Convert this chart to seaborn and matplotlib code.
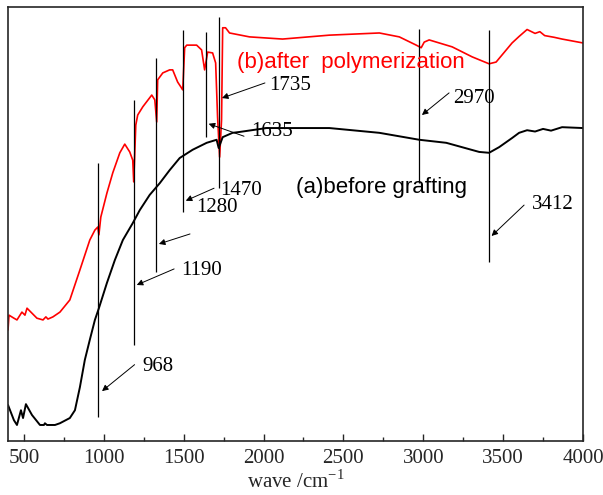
import pandas as pd
import seaborn as sns
import matplotlib.pyplot as plt

# FTIR spectra (wavenumber in cm-1, transmittance in a.u.)
wn_a = [400, 437, 456, 481, 494, 512, 550, 600, 625, 631, 644, 694, 725, 787, 819,
        850, 881, 912, 944, 969, 1019, 1069, 1119, 1181, 1225, 1287, 1350, 1412,
        1475, 1556, 1644, 1706, 1719, 1744, 1806, 1850, 2019, 2225, 2412, 2725,
        2975, 3144, 3350, 3412, 3475, 3556, 3600, 3650, 3700, 3750, 3800, 3869, 4000]
t_a = [8.3, 4.8, 3.7, 7.1, 5.3, 8.5, 6.0, 3.7, 3.7, 4.1, 3.7, 3.7, 4.1, 5.3, 7.1,
       12.4, 18.7, 23.3, 27.9, 30.6, 36.4, 41.7, 46.3, 50.2, 53.2, 56.7, 59.4, 62.4,
       65.2, 67.1, 68.7, 69.4, 67.5, 70.0, 71.0, 71.2, 72.1, 72.1, 72.1, 71.0,
       69.4, 68.7, 66.6, 66.4, 67.7, 69.8, 71.0, 71.6, 71.3, 71.9, 71.5, 72.3, 72.1]

wn_b = [400, 406, 437, 456, 487, 506, 519, 581, 619, 637, 650, 681, 725, 787, 850,
        912, 944, 962, 969, 981, 1019, 1056, 1100, 1131, 1162, 1181, 1187, 1200,
        1212, 1244, 1300, 1319, 1331, 1337, 1369, 1412, 1431, 1462, 1487, 1494,
        1506, 1519, 1581, 1612, 1631, 1650, 1681, 1700, 1706, 1712, 1725, 1737,
        1744, 1762, 1787, 1912, 2119, 2412, 2725, 2850, 2956, 2987, 3006, 3037,
        3181, 3306, 3412, 3456, 3556, 3600, 3650, 3700, 3730, 3760, 3820, 3869, 4000]
t_b = [25.6, 29.0, 28.3, 27.9, 29.7, 29.0, 30.6, 28.3, 27.9, 28.6, 28.1, 28.6, 29.7,
       32.5, 39.4, 46.3, 48.6, 49.3, 47.5, 51.6, 57.1, 61.8, 66.4, 68.4, 66.6, 64.7,
       59.7, 72.8, 75.1, 77.0, 79.7, 78.6, 73.5, 83.2, 84.8, 85.5, 85.5, 82.7, 81.3,
       80.9, 90.6, 91.2, 91.2, 90.1, 85.5, 89.6, 89.4, 87.1, 80.9, 74.7, 65.4, 74.0,
       95.2, 95.2, 94.0, 93.1, 92.6, 93.5, 94.0, 93.1, 91.2, 90.6, 91.9, 92.4,
       90.8, 88.5, 86.9, 87.3, 91.7, 93.2, 94.8, 93.9, 94.3, 93.4, 93.0, 92.6, 91.7]

# band marker lines: wavenumber, bottom and top
band_wn = [965, 1188, 1325, 1495, 1637, 1720, 2975, 3412]
band_lo = [5.5, 22.1, 38.9, 52.8, 70.0, 58.3, 59.4, 41.2]
band_hi = [64.1, 78.6, 88.2, 94.7, 94.2, 97.7, 94.9, 94.7]

df_a = pd.DataFrame({'wave': wn_a, 'T': t_a})
df_b = pd.DataFrame({'wave': wn_b, 'T': t_b})

sns.set_style('ticks')
plt.rcParams['font.family'] = ['Liberation Serif', 'DejaVu Serif']
plt.rcParams['mathtext.fontset'] = 'custom'
plt.rcParams['mathtext.rm'] = 'Liberation Serif'

fig = plt.figure(figsize=(6.03, 4.95), dpi=100)
ax = fig.add_axes([0.0133, 0.109, 0.9535, 0.877])

sns.lineplot(data=df_b, x='wave', y='T', color='red', lw=1.2, ax=ax)
sns.lineplot(data=df_a, x='wave', y='T', color='black', lw=1.4, ax=ax)

ax.vlines(band_wn, band_lo, band_hi, color='black', lw=0.9)

arrow = dict(arrowstyle='-|>', color='black', lw=0.7, mutation_scale=9)
num_font = dict(fontsize=15, color='black', va='center', ha='left')

# (text, text position, arrow start, arrow end)
notes = [
    ('968', (1244, 17.1), (1206, 18.0), (975, 11.1)),
    ('1190', (1487, 39.4), (1456, 39.9), (1190, 35.7)),
    ('1280', (1581, 53.7), None, None),
    ('1470', (1731, 57.8), (1706, 58.5), (1497, 55.1)),
    ('1635', (1925, 71.2), (1894, 70.0), (1640, 73.3)),
    ('1735', (2037, 81.8), (2025, 82.7), (1723, 78.8)),
    ('2970', (3187, 79.0), (3175, 80.6), (2978, 74.7)),
    ('3412', (3681, 54.4), (3644, 54.8), (3415, 46.8)),
]
for txt, pos, start, end in notes:
    ax.text(pos[0], pos[1], txt, **num_font)
    if start is not None:
        ax.annotate('', xy=end, xytext=start, arrowprops=arrow)
# unlabeled arrow
ax.annotate('', xy=(1328, 45.2), xytext=(1556, 47.9), arrowprops=arrow)

ax.text(1831, 87.1, '(b)after  polymerization', color='red', fontsize=16,
        family='Liberation Sans', va='center')
ax.text(2200, 58.5, '(a)before grafting', color='black', fontsize=16,
        family='Liberation Sans', va='center')

ax.set_xlim(400, 4000)
ax.set_ylim(0, 100)
ax.set_xticks([500, 1000, 1500, 2000, 2500, 3000, 3500, 4000])
ax.set_xticks(range(750, 4000, 500), minor=True)
ax.set_yticks([])
ax.tick_params(axis='x', which='major', direction='in', length=5, width=1,
               labelsize=15, pad=6)
ax.tick_params(axis='x', which='minor', direction='in', length=3, width=1)
for sp in ax.spines.values():
    sp.set_visible(True)
    sp.set_linewidth(1.2)
ax.set_xlabel('wave /cm$^{-1}$', fontsize=15, labelpad=1)
ax.set_ylabel('')

fig.savefig('out.png', dpi=100)
